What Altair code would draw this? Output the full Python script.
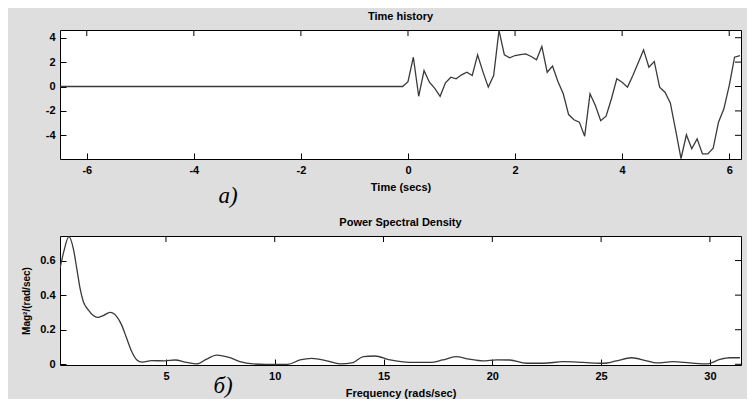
import altair as alt
import pandas as pd

# ---- Time history (top panel) ----
time_s = [-6.5, -0.1,
          0.0, 0.1, 0.2, 0.3, 0.4, 0.5, 0.6, 0.7, 0.8, 0.9,
          1.0, 1.1, 1.2, 1.3, 1.4, 1.5, 1.6, 1.7, 1.8, 1.9,
          2.0, 2.1, 2.2, 2.3, 2.4, 2.5, 2.6, 2.7, 2.8, 2.9,
          3.0, 3.1, 3.2, 3.3, 3.4, 3.5, 3.6, 3.7, 3.8, 3.9,
          4.0, 4.1, 4.2, 4.3, 4.4, 4.5, 4.6, 4.7, 4.8, 4.9,
          5.0, 5.1, 5.2, 5.3, 5.4, 5.5, 5.6, 5.7, 5.8, 5.9,
          6.0, 6.1, 6.2]
signal = [0.0, 0.0,
          0.4, 2.4, -0.8, 1.3, 0.35, -0.15, -0.8, 0.3, 0.76, 0.63,
          0.96, 1.17, 0.9, 2.6, 1.2, -0.05, 0.9, 4.6, 2.6, 2.35,
          2.54, 2.62, 2.68, 2.46, 2.19, 3.28, 1.17, 1.67, 0.41, -0.6,
          -2.3, -2.73, -2.92, -4.07, -0.6, -1.56, -2.8, -2.43, -1.0, 0.63,
          0.35, -0.05, 0.9, 1.94, 3.0, 1.58, 2.05, -0.05, -0.47, -1.34,
          -3.6, -5.9, -3.96, -5.1, -4.29, -5.52, -5.52, -5.06, -2.92, -1.83,
          0.08, 2.4, 2.54]

# ---- Power spectral density (bottom panel) ----
freq = [0.13, 0.3, 0.54, 0.74, 0.9, 1.05, 1.2, 1.43, 1.66, 1.86,
        2.12, 2.43, 2.73, 2.96, 3.19, 3.42, 3.65, 3.91, 4.34, 4.95,
        5.41, 5.95, 6.41, 6.87, 7.33, 7.94, 8.4, 9.01, 9.6, 10.6,
        11.16, 11.7, 12.4, 13.0, 13.6, 14.07, 14.6, 15.3, 16.21, 17.13,
        17.72, 18.33, 18.94, 19.55, 20.2, 20.8, 21.57, 22.34, 23.26, 24.18,
        25.1, 25.71, 26.4, 27.09, 27.55, 28.31, 29.08, 29.85, 30.46, 30.92,
        31.38]
psd = [0.555, 0.65, 0.738, 0.67, 0.555, 0.44, 0.363, 0.315, 0.282, 0.271,
       0.282, 0.30, 0.277, 0.228, 0.152, 0.075, 0.027, 0.013, 0.021, 0.02,
       0.025, 0.011, 0.002, 0.03, 0.053, 0.038, 0.015, 0.002, 0.0, 0.0,
       0.025, 0.034, 0.02, 0.002, 0.01, 0.045, 0.048, 0.025, 0.011, 0.011,
       0.025, 0.044, 0.03, 0.02, 0.026, 0.025, 0.006, 0.006, 0.015, 0.011,
       0.006, 0.02, 0.038, 0.02, 0.008, 0.015, 0.008, 0.002, 0.028, 0.038,
       0.038]

top_x_ticks = [-6, -4, -2, 0, 2, 4, 6]
top_y_ticks = [-4, -2, 0, 2, 4]
bot_x_ticks = [5, 10, 15, 20, 25, 30]
bot_y_ticks = [0, 0.2, 0.4, 0.6]

top_df = pd.DataFrame({"t": time_s, "v": signal})
bot_df = pd.DataFrame({"f": freq, "p": psd})

W, H = 681, 129
FONT = "Liberation Sans"
TICK = 6


def panel(df, xf, yf, xdom, ydom, xticks, yticks, title, xtitle, ytitle,
          tag, tag_x, tag_y, interp):
    xs = alt.Scale(domain=xdom, nice=False, zero=False)
    ys = alt.Scale(domain=ydom, nice=False, zero=False)
    lab = "'' + datum.value"
    # inward ticks: the axis line sits TICK px inside the frame and the
    # ticks run outward from it up to the frame
    yaxis_main = dict(values=yticks, ticks=True, tickSize=TICK, offset=-TICK,
                      tickColor="black", tickWidth=1, domain=False, grid=False,
                      labelExpr=lab, labelPadding=5, labelFlush=False,
                      labelOverlap=False)
    if ytitle:
        yaxis_main.update(title=ytitle, titleFontSize=10, titlePadding=8)
    else:
        yaxis_main.update(title=None)
    line = alt.Chart(df).mark_line(color="#3a3a3a", strokeWidth=1.3, clip=True,
                                   interpolate=interp).encode(
        x=alt.X(f"{xf}:Q", scale=xs,
                axis=alt.Axis(values=xticks, ticks=True, tickSize=TICK,
                              offset=-TICK, tickColor="black", tickWidth=1,
                              domain=False, grid=False, title=xtitle,
                              labelExpr=lab, labelPadding=5, titlePadding=6,
                              labelFlush=False, labelOverlap=False)),
        y=alt.Y(f"{yf}:Q", scale=ys, axis=alt.Axis(**yaxis_main)),
    )
    xt = alt.Chart(pd.DataFrame({xf: xticks}))
    yt = alt.Chart(pd.DataFrame({yf: yticks}))
    tick_style = dict(color="black", strokeWidth=1, opacity=1)
    x_top = xt.mark_rule(**tick_style).encode(
        x=alt.X(f"{xf}:Q", scale=xs, axis=None),
        y=alt.value(0), y2=alt.value(TICK))
    y_right = yt.mark_rule(**tick_style).encode(
        y=alt.Y(f"{yf}:Q", scale=ys, axis=None),
        x=alt.value(W - TICK), x2=alt.value(W))
    tag_layer = alt.Chart(pd.DataFrame({"s": [tag]})).mark_text(
        font="Liberation Serif", fontStyle="italic", fontSize=23,
        color="black", align="center", baseline="alphabetic"
    ).encode(text="s:N", x=alt.value(tag_x), y=alt.value(tag_y))
    return alt.layer(line, x_top, y_right, tag_layer).resolve_axis(
        x="independent", y="independent"
    ).properties(
        width=W, height=H,
        title=alt.TitleParams(title, fontSize=11, font=FONT, fontWeight="bold",
                              color="black", offset=8, anchor="middle"),
    )


top = panel(top_df, "t", "v", [-6.5, 6.22], [-5.94, 4.63],
            top_x_ticks, top_y_ticks, "Time history", "Time (secs)", None,
            "a)", 168, 173, "linear")
bottom = panel(bot_df, "f", "p", [0.13, 31.43], [-0.004, 0.742],
               bot_x_ticks, bot_y_ticks, "Power Spectral Density",
               "Frequency (rads/sec)", "Mag²/(rad/sec)",
               "б)", 163, 157, "monotone")

chart = alt.vconcat(top, bottom, spacing=7).properties(
    background="#dedede",
    padding={"left": 13, "top": 2, "right": 5, "bottom": 0},
).configure_view(
    stroke="black", strokeWidth=1, fill="white"
).configure_axis(
    labelFont=FONT, labelFontSize=11, labelFontWeight="bold", labelColor="black",
    titleFont=FONT, titleFontSize=11, titleFontWeight="bold", titleColor="black",
)

chart.save("out.html", embed_options={"renderer": "svg", "actions": False})
